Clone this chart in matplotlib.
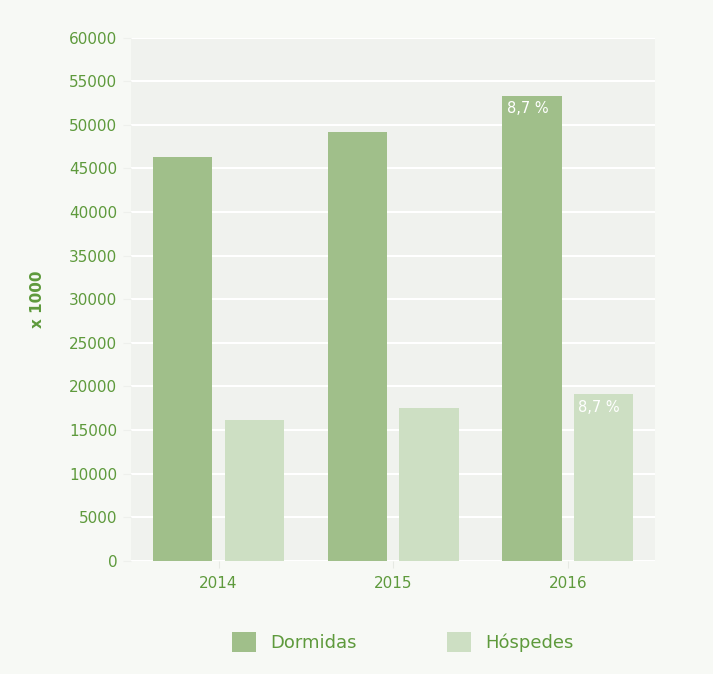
import numpy as np
import matplotlib
matplotlib.use("Agg")
import matplotlib.pyplot as plt
from matplotlib.patches import Patch

# dados
anos = ["2014", "2015", "2016"]
dormidas = [46300, 49200, 53300]
hospedes = [16100, 17500, 19100]
rotulos_dormidas = ["", "", "8,7 %"]
rotulos_hospedes = ["", "", "8,7 %"]

verde_texto = "#5e9a3c"
cor_dormidas = "#a0bf8a"
cor_hospedes = "#cddfc3"

fig = plt.figure(figsize=(7.13, 6.74), dpi=100, facecolor="#f7f9f5")
ax = fig.add_axes([0.184, 0.168, 0.735, 0.776])
ax.set_facecolor("#f0f2ee")

x = np.arange(len(anos))
largura = 0.34
b1 = ax.bar(x - 0.205, dormidas, largura, color=cor_dormidas, zorder=3)
b2 = ax.bar(x + 0.205, hospedes, largura, color=cor_hospedes, zorder=3)

# etiquetas de variação
for barras, rotulos in [(b1, rotulos_dormidas), (b2, rotulos_hospedes)]:
    for r, txt in zip(barras, rotulos):
        if txt:
            ax.text(r.get_x() + 0.025, r.get_height() - 600, txt,
                    color="white", fontsize=10.5, ha="left", va="top", zorder=4)

ax.set_xlim(-0.5, 2.5)
ax.set_ylim(0, 60000)
ax.set_yticks(np.arange(0, 60001, 5000))
ax.set_xticks(x)
ax.set_xticklabels(anos)
ax.grid(axis="y", color="white", linewidth=1.5, zorder=1)
for s in ax.spines.values():
    s.set_visible(False)
ax.tick_params(axis="y", colors="#eef0ec", labelcolor=verde_texto,
               labelsize=11, length=6, pad=4)
ax.tick_params(axis="x", colors="#e6e9e3", labelcolor=verde_texto,
               labelsize=11, length=5, pad=6)

ax.set_ylabel("x 1000", color=verde_texto, fontsize=11, fontweight="bold",
              labelpad=17)

handles = [Patch(facecolor=cor_dormidas, label="Dormidas"),
           Patch(facecolor=cor_hospedes, label="Hóspedes")]
leg = fig.legend(handles=handles, loc="center", bbox_to_anchor=(0.565, 0.047),
                 ncol=2, frameon=False, fontsize=13, handlelength=1.3,
                 handleheight=1.3, columnspacing=5, handletextpad=0.8)
for t in leg.get_texts():
    t.set_color(verde_texto)

fig.savefig("out.png", dpi=100, facecolor=fig.get_facecolor())
